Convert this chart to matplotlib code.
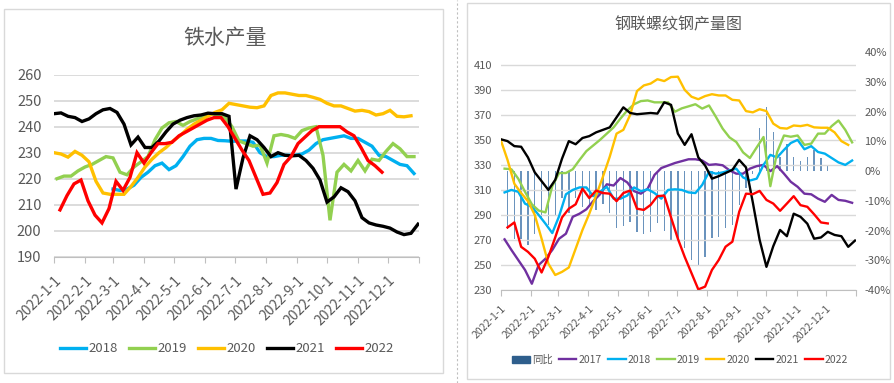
import matplotlib
matplotlib.use('Agg')
import matplotlib.pyplot as plt
from matplotlib.patches import Rectangle, Patch
from matplotlib.lines import Line2D
import pandas as pd

plt.rcParams['font.family'] = ['Noto Sans CJK SC', 'DejaVu Sans']

# ---- left chart: 铁水产量 (weekly) ----
hm_2018 = [216, 215.5, 216, 217.5, 220.5, 222.5, 225, 226, 223.5, 225, 228.5, 232.5, 235, 235.5,
           235.5, 234.7, 234.6, 234.4, 234.5, 234.5, 234, 230, 228.5, 228.5, 229, 229, 229, 229.5,
           231, 233.5, 235, 235.5, 236, 236.5, 235.5, 235.5, 234, 232.5, 229, 228.5, 227, 225.5,
           225, 222]
hm_2019 = [220, 221, 221, 223, 224.5, 225.5, 227, 228.5, 228, 222.5, 221.5, 224.5, 226.5, 228.5,
           235, 239.5, 241.5, 242, 240.5, 242, 243, 244, 245, 244.5, 243.5, 240, 234.5, 233.5,
           232.5, 233, 226, 236.5, 237, 236.5, 235.5, 238.5, 239.5, 240, 229, 204, 222.5, 225.5,
           223, 227, 223, 227.5, 227, 230.5, 233.5, 231.5, 228.5, 228.5]
hm_2020 = [230, 229.5, 228.3, 230.5, 229, 226.5, 219, 214.5, 214, 214, 214, 217, 220.5, 224.5,
           227.5, 230, 232, 234.5, 236.5, 239, 241, 242.5, 244, 245.5, 246.5, 249, 248.5, 248,
           247.5, 247.3, 248, 252, 253, 253, 252.5, 252, 252, 251.3, 250.5, 249, 248, 248, 247,
           246, 246.3, 245.8, 244.5, 245, 246.3, 244, 243.8, 244.2]
hm_2021 = [245, 245.3, 244, 243.5, 242, 243, 245, 246.5, 247, 245.5, 241, 233, 236, 232, 232,
           234.5, 238, 241, 242.5, 243.5, 244.2, 244.5, 245.2, 245, 245, 244, 216, 228, 236.5,
           235, 232, 228.5, 230, 229, 228.8, 229, 227, 224, 219.5, 211, 213, 216.5, 215, 211.5,
           205, 203, 202.2, 201.7, 201, 199.5, 198.5, 199, 202.5]
hm_2022 = [208, 213.5, 218, 219.5, 211.5, 206, 203, 208.5, 219, 215.5, 220.5, 230, 226, 230,
           233.5, 233.5, 234, 236.5, 238, 239.5, 241, 242.5, 243.5, 243.5, 240, 235.5, 231, 227,
           220.5, 214, 214.5, 218.5, 225.5, 228.5, 233.5, 236, 238.5, 240, 240, 240, 240, 238,
           236.5, 232, 227, 225, 222.5]
hm_start = {'2018': '2022-03-01', '2019': '2022-01-04', '2020': '2022-01-01',
            '2021': '2022-01-01', '2022': '2022-01-07'}

# ---- right chart: 钢联螺纹钢产量图 (weekly) ----
rb_2017 = [270.5, 262, 254, 246, 235, 250, 255, 262, 271, 275, 288.5, 291, 294.5, 301, 306.5,
           314.5, 313.5, 319.5, 316, 309, 307, 311, 322, 327.5, 329.5, 331.5, 333, 334.5, 334.5,
           333.5, 330, 330.5, 329.7, 325.7, 323, 323, 327, 329, 330, 325, 329, 323, 316.5, 312.5,
           307, 306.5, 303, 300.5, 306, 302, 301.3, 299.7]
rb_2018 = [308, 310, 308.5, 299, 296.5, 290, 283, 275.5, 289, 306.5, 310, 312, 312, 305, 308.5,
           312.5, 303, 303, 305.5, 312, 309, 310.5, 307.5, 303, 310, 310.5, 310, 308, 307.5, 314,
           324.5, 323, 324, 325.5, 327, 320, 317.5, 319, 330, 338, 336, 342, 347.5, 350, 342.5,
           345, 340.3, 339, 335.5, 332, 330, 333.5]
rb_2019 = [327, 326.5, 319, 308.5, 298.5, 293.5, 292, 313, 323.5, 323.5, 326.5, 334, 341, 345.5,
           350, 355, 360, 367, 373.5, 378.5, 381, 381.5, 380, 380, 380, 372.5, 375.2, 376.8,
           378.5, 375, 377.5, 368.5, 359, 352, 348.3, 340, 335.5, 344, 352.3, 313, 340.3, 353.5,
           352.5, 353.5, 346, 347, 355, 355, 361, 365.5, 358, 348]
rb_2020 = [350, 334, 315, 307.5, 301, 290, 271, 251, 242, 244.5, 248, 263, 278, 291, 305.5, 320.5,
           336.5, 355, 358, 370, 389, 393.5, 395, 398.5, 397, 400.2, 400.5, 390, 384.5, 382.5,
           385, 386.5, 385.5, 385.5, 382, 381.5, 373, 372, 374.5, 373, 363, 359.5, 359, 361.5,
           361, 362, 360, 359.7, 359.7, 356, 349, 346]
rb_2021 = [350.5, 349, 345, 344.5, 336, 324, 317, 310, 318, 335, 349, 346.5, 351.5, 353, 356, 358,
           360, 368, 376, 371.5, 370.5, 371, 371.5, 371, 380, 378, 355, 346, 354.5, 336, 329.5,
           319, 321, 323.5, 326, 334, 328, 300, 270, 248.5, 265, 278, 273, 291, 288.5, 283, 271,
           272, 276.5, 274, 273, 264.5, 269.5]
rb_2022 = [280, 284, 264.5, 260.5, 255, 244, 256.5, 272, 288, 295, 298.5, 311, 303.5, 309.5, 307.5,
           307, 301, 307.5, 309.5, 295, 294, 298, 305, 305.5, 288, 271, 256.5, 243.5, 230.5,
           232.7, 246, 254, 264.6, 268.6, 292.5, 307, 306.6, 309.2, 302, 299.1, 293.3, 299.1,
           305, 297.8, 296.5, 290.5, 284, 283.2]
rb_yoy = [-19.5, -23, -23, -25, -21, -16, -18, -15, -9, -14, -9, -12, -12, -13, -11, -14, -19,
          -18.5, -17, -20.5, -21, -20.5, -17.5, -20, -23.5, -23, -26, -30, -31.5, -29, -22.5,
          -22, -19.3, -18.2, -11.4, -5.8, -1, 14.4, 21.5, 13.2, 4.8, 9.3, 4.8, 3.4, 4.8, 7, 4.5,
          2.2]
rb_start = {'2017': '2022-01-05', '2018': '2022-01-05', '2019': '2022-01-05',
            '2020': '2022-01-01', '2021': '2022-01-01', '2022': '2022-01-08'}

colors = {'2017': '#7030A0', '2018': '#00B0F0', '2019': '#92D050', '2020': '#FFC000',
          '2021': '#000000', '2022': '#FF0000'}
months = pd.date_range('2022-01-01', periods=12, freq='MS')
month_labels = [f'{d.year}-{d.month}-{d.day}' for d in months]
tick_pos = list(months) + [pd.Timestamp('2023-01-01')]


def weekly(start, vals):
    return pd.date_range(start, periods=len(vals), freq='7D')


W, H = 895, 383
fig = plt.figure(figsize=(W / 100, H / 100), dpi=100)
grey = '#595959'


def fx(px):
    return px / W


def fy(py):
    return 1 - py / H


# panel frames
fig.add_artist(Rectangle((fx(4), fy(373)), fx(443) - fx(4), fy(9) - fy(373), transform=fig.transFigure,
                         fill=False, ec='#D9D9D9', lw=1))
fig.add_artist(Rectangle((fx(467), fy(379)), fx(890) - fx(467), fy(3) - fy(379), transform=fig.transFigure,
                         fill=False, ec='#D9D9D9', lw=1))
fig.add_artist(Line2D([fx(457), fx(457)], [0, 1], transform=fig.transFigure, color='#BFBFBF',
                      lw=0.8, ls=(0, (2, 2))))


def style_xaxis(ax, size, pad):
    ax.set_xlim(pd.Timestamp('2022-01-01'), pd.Timestamp('2023-01-01'))
    ax.set_xticks(tick_pos)
    ax.set_xticklabels(month_labels + [''], rotation=45, ha='right', va='top',
                       rotation_mode='anchor', fontsize=size, color=grey)
    ax.tick_params(axis='x', direction='out', length=4, color='#BFBFBF', pad=pad)
    for s in ['top', 'left', 'right']:
        ax.spines[s].set_visible(False)
    ax.spines['bottom'].set_color('#BFBFBF')


# ---- left chart ----
ax1 = fig.add_axes([fx(54), fy(256.7), fx(419) - fx(54), fy(74.7) - fy(256.7)])
for yr, vals in [('2018', hm_2018), ('2019', hm_2019), ('2020', hm_2020),
                 ('2021', hm_2021), ('2022', hm_2022)]:
    ax1.plot(weekly(hm_start[yr], vals), vals, color=colors[yr], lw=2.4, label=yr,
             solid_joinstyle='miter')
ax1.set_ylim(190, 260)
ax1.set_yticks(range(190, 261, 10))
ax1.yaxis.grid(True, color='#D9D9D9', lw=1.3)
ax1.set_axisbelow(True)
ax1.tick_params(axis='y', length=0, labelsize=10.5, labelcolor=grey, pad=9)
style_xaxis(ax1, 10, 8)
fig.text(fx(225), fy(38), '铁水产量', ha='center', va='center', fontsize=15, color=grey)
h1, l1 = ax1.get_legend_handles_labels()
fig.legend(h1, l1, loc='center', bbox_to_anchor=(fx(227), fy(349)), ncol=5, frameon=False,
           fontsize=9.5, handlelength=2.0, handletextpad=0.2, columnspacing=0.8,
           labelcolor=grey)

# ---- right chart ----
ax2 = fig.add_axes([fx(500.7), fy(290), fx(856) - fx(500.7), fy(52.3) - fy(290)])
axr = ax2.twinx()
axr.bar(weekly(rb_start['2022'], rb_yoy), rb_yoy, width=1.4, color='#6A93BD', zorder=1)
axr.set_ylim(-40, 40)
axr.set_yticks(range(-40, 41, 10))
axr.set_yticklabels([f'{v}%' for v in range(-40, 41, 10)])
axr.tick_params(axis='y', length=0, labelsize=8, labelcolor=grey, pad=6)
for s in axr.spines.values():
    s.set_visible(False)

ax2.set_zorder(axr.get_zorder() + 1)
ax2.patch.set_visible(False)
for yr, vals in [('2017', rb_2017), ('2018', rb_2018), ('2019', rb_2019), ('2020', rb_2020),
                 ('2021', rb_2021), ('2022', rb_2022)]:
    ax2.plot(weekly(rb_start[yr], vals), vals, color=colors[yr], lw=1.7, label=yr)
ax2.set_ylim(230, 420)
ax2.set_yticks(range(230, 411, 20))
ax2.yaxis.grid(True, color='#D9D9D9', lw=1)
ax2.tick_params(axis='y', length=0, labelsize=8, labelcolor=grey, pad=6)
style_xaxis(ax2, 7.5, 6)
fig.text(fx(678), fy(25), '钢联螺纹钢产量图', ha='center', va='center', fontsize=11.5, color=grey)
h2, l2 = ax2.get_legend_handles_labels()
h2 = [Patch(color='#2E5E8C')] + h2
l2 = ['同比'] + l2
fig.legend(h2, l2, loc='center', bbox_to_anchor=(fx(680), fy(360)), ncol=7, frameon=False,
           fontsize=7.5, handlelength=1.7, handletextpad=0.2, columnspacing=0.6,
           labelcolor=grey)

fig.savefig('out.png', dpi=100)
